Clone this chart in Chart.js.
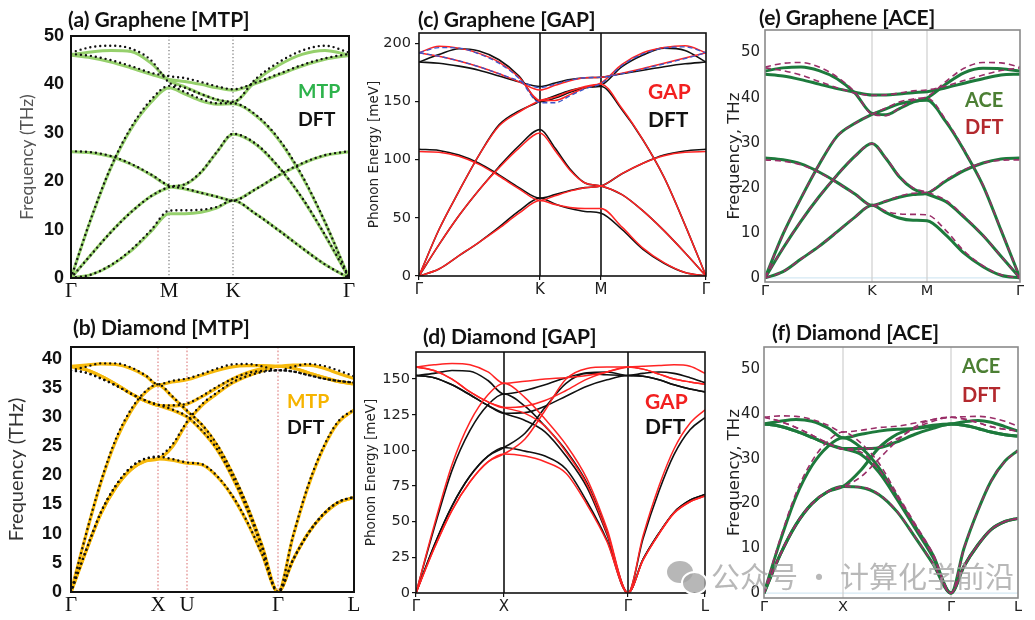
<!DOCTYPE html>
<html>
<head>
<meta charset="utf-8">
<script src="https://cdn.jsdelivr.net/npm/chart.js@4.4.1/dist/chart.umd.min.js"></script>
<style>
html,body{margin:0;padding:0;background:#fff}
body{position:relative;width:1035px;height:620px;overflow:hidden}
.box{position:absolute}
.lbl{position:absolute;font-family:Lato,"Liberation Sans",sans-serif;font-weight:bold;line-height:1;white-space:nowrap}
.wm{position:absolute;left:711px;top:554px;font-family:"Noto Sans CJK SC",sans-serif;font-size:29px;color:rgba(160,160,160,.75);white-space:nowrap;z-index:5}
.bub{position:absolute;border-radius:50%;background:rgba(165,165,165,.8);z-index:5}
</style>
</head>
<body>
<script>
/* ════════════════════════════════════
   DATA  (band values)
════════════════════════════════════ */

/* (a) graphene, MTP vs DFT, THz, path Γ-M-K-Γ */
const aX=[0,20,40,60,80,98,114,130,146,162,185,208,231,254,278];
const aTicks=[0,98,162,278];
const aNames=['Γ','M','K','Γ'];
const aY=[0,10,20,30,40,50];
const aMtp=[
  [0,0.7,2.6,5.6,9.6,13.3,13.3,13.6,14.5,16.0,13.2,9.8,6.2,2.8,0],
  [26.1,25.9,25.1,23.5,21.3,19.0,18.4,17.6,16.8,16.0,18.4,21.2,23.6,25.3,26.1],
  [0,4.8,9.5,13.6,16.9,18.7,19.3,21.8,26.0,29.7,27.6,22.8,16.5,8.8,0],
  [0,12.2,22.8,30.8,36.3,39.3,38.0,36.6,35.9,36.0,33.5,28.5,21.0,11.5,0],
  [46.1,46.7,47.0,46.8,44.4,40.8,39.5,38.0,36.8,36.3,40.8,44.0,46.2,47.0,46.1],
  [46.0,45.5,44.6,43.4,42.1,41.0,40.6,40.0,39.3,38.8,40.2,42.0,43.8,45.2,46.0]
];
const aDft=[
  [0,0.7,2.7,5.8,9.9,13.9,14.0,14.1,14.7,16.0,13.2,9.8,6.2,2.8,0],
  [26.2,26.0,25.2,23.6,21.4,19.1,18.5,17.6,16.8,16.0,18.4,21.3,23.7,25.4,26.2],
  [0,4.8,9.5,13.6,16.9,18.8,19.4,21.9,26.1,29.8,27.7,22.9,16.6,8.9,0],
  [0,12.3,23.0,31.1,36.8,39.7,38.4,37.0,36.1,36.1,33.7,28.7,21.2,11.6,0],
  [46.6,47.7,48.0,47.4,45.0,40.4,39.3,38.0,36.9,36.4,41.2,44.6,47.0,48.0,46.6],
  [46.3,45.9,45.0,43.8,42.4,41.7,41.3,40.5,39.6,39.0,40.4,42.2,44.0,45.4,46.3]
];

/* (b) diamond, MTP vs DFT, THz, path Γ-X-U-Γ-L */
const bX=[0,15,30,45,60,75,87,101,116,131,146,161,176,191,207,222,237,252,267,283];
const bTicks=[0,87,116,207,283];
const bNames=['Γ','X','U','Γ','L'];
const bY=[0,5,10,15,20,25,30,35,40];
const bMtp=[
  [38.7,38.9,39.1,39.0,38.3,37.0,35.5,36.0,36.4,37.2,38.0,38.6,38.8,38.8,38.7,38.9,38.9,38.4,37.5,36.6],
  [38.7,38.1,37.0,35.6,34.0,32.7,32.0,31.9,32.2,33.5,35.0,36.5,37.6,38.3,38.7,38.4,37.6,36.8,36.1,35.7],
  [0,9.8,18.8,26.0,31.0,34.3,35.5,33.5,31.0,28.6,25.2,20.5,14.8,8.0,0,9.5,18.0,24.5,29.0,31.2],
  [0,7.0,13.5,18.0,21.0,22.5,22.8,24.8,29.0,32.0,34.0,35.8,37.0,37.9,38.7,38.4,37.6,36.8,36.1,35.7],
  [38.7,38.1,37.0,35.6,34.0,32.7,32.0,31.2,30.0,27.6,24.4,19.8,14.2,7.6,0,5.5,10.0,13.2,15.3,16.2],
  [0,7.0,13.5,18.0,21.0,22.5,22.8,22.6,22.1,21.8,19.8,16.5,12.0,6.5,0,5.5,10.0,13.2,15.3,16.2]
];
const bDft=[
  [38.0,38.6,39.2,39.2,38.5,37.1,35.6,36.2,36.6,37.4,38.3,39.0,39.1,38.7,38.0,38.6,39.1,38.8,38.0,37.0],
  [38.0,37.6,36.6,35.4,34.0,32.8,32.1,32.0,32.3,33.6,35.2,36.5,37.5,37.9,38.0,37.8,37.2,36.6,36.2,35.9],
  [0,9.9,19.0,26.3,31.3,34.5,35.6,33.6,31.1,28.7,25.3,20.6,14.9,8.0,0,9.6,18.2,24.7,29.2,31.3],
  [0,7.1,13.7,18.3,21.4,22.9,23.2,25.2,29.2,32.2,34.2,35.9,37.0,37.7,38.0,37.8,37.2,36.6,36.2,35.9],
  [38.0,37.6,36.6,35.4,34.0,32.8,32.1,31.3,30.1,27.7,24.5,19.9,14.3,7.6,0,5.5,10.0,13.3,15.4,16.3],
  [0,7.1,13.7,18.3,21.4,22.9,23.2,22.8,22.2,21.9,19.9,16.6,12.1,6.5,0,5.5,10.0,13.3,15.4,16.3]
];

/* (c) graphene, GAP vs DFT, meV, path Γ-K-M-Γ */
const cX=[0,20,40,60,80,100,121,136,151,166,182,203,224,245,266,287];
const cTicks=[0,121,182,287];
const cNames=['Γ','K','M','Γ'];
const cY=[0,50,100,150,200];
const cDft=[
  [0,6,17.5,29,42,56,67,62,58,55.5,54,40,23,11,3,0],
  [109,108,104,97,87,76,67,70,73.5,76,77.4,88,97,104,107.5,109],
  [0,27,52,74,94,112,126,110,92,80,77.4,70,56,39,20,0],
  [0,40,73,104,130,142,150,155,159.5,162,163,143,117,85,44,0],
  [184,190.5,195.5,193.5,186,172,150,153,158,162,164,180,190,196,194,184],
  [184,183,180.5,177,172,167,163,166,169,170.5,171,174,177,180,182.5,184]
];
const cGap=[
  [0,6,17.5,29,41,54,65,61.5,59,58,58,42,24,11.5,3,0],
  [107,106.5,103,96,86,75,65,69,73,76,77.4,88,97,103.5,106.5,107],
  [0,27,52,74,93,110,123,108,91,80,77.4,70,56,39,20,0],
  [0,40,73,104,129,141,151,154,159,163,165,144,117,85,44,0],
  [192,197.5,196,191.5,184,171,151,151,156,162,166,182,192,196.5,198,192],
  [192,189,185,180,174,167,160,164,168,170.5,171,174.5,178.5,183,187.5,192]
];
const cAlt=[
  [192,196.5,196,191,183,170,149,149,155,161,165.5,181,191,196,197,192],
  [192,189,185,180,174,168,162,165,168.5,170.5,171,174,178,182.5,187,192]
];

/* (d) diamond, GAP vs DFT, meV, path Γ-X-Γ-L */
const dX=[0,18,36,54,72,88,109,129,150,171,191,212,227,243,258,274,289];
const dTicks=[0,88,212,289];
const dNames=['Γ','X','Γ','L'];
const dY=[0,25,50,75,100,125,150];
const dDft=[
  [152.5,154,156,155.5,149,139.5,142,146,151,154.5,155,152.5,154,155,154,151,147.5],
  [152.5,151,146,139,131.5,126,126.5,131,138,145,149.5,152.5,152,149.5,146,143,141],
  [0,33,61,82,96,102,112,130,147,154,153,152.5,152,149.5,146,143,141],
  [0,45,86,114,132,139.5,131,117,100,77,43,0,38,71.5,97,114.5,123],
  [152.5,151,146,139,131.5,126,121,113,96,74,41,0,23.5,42,56.5,65,69],
  [0,33,61,82,96,102,99.5,96,87,64,37,0,23.5,42,56.5,65,69]
];
const dGap=[
  [158.5,160,161,160,155,147,148.5,150,151,152.5,155,158.5,159,159.5,160,159,154],
  [158.5,156,150,141,134,130,131,135,142,150,155,158.5,157,153.5,150,148,146.5],
  [0,31,58,78,92,97.5,108,128,150,157.5,158.5,158.5,157,153.5,150,148,146.5],
  [0,47,90,120,139,147,137,122,104,80,45,0,40,75,101,119,128.5],
  [158.5,156,150,141,134,130,126,117,99,76,42,0,23,41.5,56,64,68],
  [0,31,58,78,92,97.5,96,92,84,62,36,0,23,41.5,56,64,68]
];

/* (e) graphene, ACE vs DFT, THz, path Γ-K-M-Γ */
const eX=[0,18,36,54,72,90,107,121,134,148,162,181,199,218,236,255];
const eTicks=[0,107,162,255];
const eNames=['Γ','K','M','Γ'];
const eY=[0,10,20,30,40,50];
const eAce=[
  [0,1.4,4.2,7.0,10.2,13.5,16.1,14.5,13.3,12.8,12.7,9.5,5.5,2.5,0.6,0],
  [26.6,26.2,25.3,23.5,21.2,18.6,16.1,17.0,17.9,18.5,18.8,21.5,23.8,25.5,26.4,26.6],
  [0,6.6,12.6,18.0,22.8,27.0,29.8,26.5,22.5,19.8,18.6,16.9,13.5,9.4,4.8,0],
  [0,9.7,17.7,25.1,31.4,34.3,36.3,37.5,38.6,39.2,39.4,34.6,28.3,20.5,10.6,0],
  [45.9,46.6,46.8,46.0,44.2,41.0,36.5,36.2,37.5,39.0,39.9,43.0,45.5,46.5,46.4,45.9],
  [45.2,44.8,44.0,43.0,42.0,41.2,40.6,40.6,40.8,41.1,41.3,42.2,43.2,44.2,45.0,45.2]
];
const eDft=[
  [0,1.4,4.2,7.0,10.2,13.5,16.1,14.8,14.2,14.1,14.0,10.5,6.0,2.7,0.7,0],
  [26.2,25.9,25.1,23.4,21.1,18.6,16.1,17.1,18.1,18.8,19.0,21.8,24.0,25.5,26.1,26.2],
  [0,6.6,12.6,18.0,22.8,27.0,29.8,26.6,22.7,20.0,19.0,17.2,13.7,9.5,4.8,0],
  [0,9.7,17.7,25.1,31.4,34.3,36.3,37.7,39.0,39.7,39.9,35.0,28.5,20.6,10.7,0],
  [46.8,47.6,47.8,46.8,44.6,41.2,36.3,36.0,37.6,39.4,40.2,43.6,46.5,47.8,47.7,46.8],
  [46.6,46.0,45.0,43.6,42.2,41.0,40.5,40.6,41.0,41.5,41.7,42.6,43.8,45.0,46.0,46.6]
];

/* (f) diamond, ACE vs DFT, THz, path Γ-X-Γ-L */
const fX=[0,16,32,48,64,79,97,115,133,151,169,187,200,214,227,241,254];
const fTicks=[0,79,187,254];
const fNames=['Γ','X','Γ','L'];
const fY=[0,10,20,30,40,50];
const fAce=[
  [37.8,38.4,38.8,38.4,36.9,34.7,35.5,36.2,36.6,36.8,37.3,37.8,38.3,38.6,38.2,37.2,36.2],
  [37.8,37.3,36.2,34.8,33.3,32.3,32.3,32.5,33.8,35.5,36.8,37.8,37.5,36.8,36.0,35.4,35.1],
  [0,8.5,15.3,20.0,22.7,23.8,27.5,32.5,35.5,36.8,37.5,37.8,37.5,36.8,36.0,35.4,35.1],
  [0,11.5,21.5,28.5,32.8,34.7,32.5,28.0,21.5,15.0,8.5,0,10.0,18.5,25.0,29.5,31.9],
  [37.8,37.3,36.2,34.8,33.3,32.3,31.0,27.0,21.0,14.5,8.0,0,6.0,10.8,14.2,16.0,16.7],
  [0,8.5,15.3,20.0,22.7,23.8,23.6,22.0,18.2,12.5,6.5,0,6.0,10.8,14.2,16.0,16.7]
];
const fDft=[
  [39.3,39.6,39.5,38.8,37.5,36.0,36.4,37.0,37.3,38.0,38.8,39.3,39.4,39.5,39.2,38.4,37.3],
  [39.3,38.4,37.0,35.3,33.5,32.2,32.3,32.6,34.5,36.8,38.4,39.3,38.9,38.1,37.2,36.6,36.2],
  [0,8.5,15.3,20.0,22.7,23.8,26.0,30.0,34.0,37.2,38.8,39.3,38.9,38.1,37.2,36.6,36.2],
  [0,12.0,22.3,29.5,34.0,36.0,33.5,29.0,22.2,15.5,8.8,0,10.0,18.5,25.0,29.4,31.8],
  [39.3,38.4,37.0,35.3,33.5,32.2,31.5,27.5,21.5,15.0,8.3,0,6.0,10.8,14.2,16.0,16.7],
  [0,8.5,15.3,20.0,22.7,23.8,23.7,22.1,18.3,12.6,6.6,0,6.0,10.8,14.2,16.0,16.7]
];

/* ════════════════════════════════════
   DRAWING
════════════════════════════════════ */
const SANS='"DejaVu Sans", sans-serif';
const PT=12,PR=12,XH=30;

/* dividers, zero line and frame */
const deco={
  id:'deco',
  beforeDatasetsDraw(c,_,o){
    const {ctx,chartArea:a,scales:{x,y}}=c;
    ctx.save();
    if(o.zero){
      const py=y.getPixelForValue(0);
      ctx.strokeStyle=o.zero;ctx.lineWidth=1.3;
      ctx.beginPath();ctx.moveTo(a.left,py);ctx.lineTo(a.right,py);ctx.stroke();
    }
    ctx.strokeStyle=o.vColor;ctx.lineWidth=o.vWidth;ctx.setLineDash(o.vDash||[]);
    o.vAt.forEach(v=>{
      const px=x.getPixelForValue(v);
      ctx.beginPath();ctx.moveTo(px,a.top);ctx.lineTo(px,a.bottom);ctx.stroke();
    });
    ctx.restore();
  },
  afterDatasetsDraw(c,_,o){
    const {ctx,chartArea:a}=c;
    ctx.save();ctx.strokeStyle=o.frame;ctx.lineWidth=o.frameW;
    ctx.strokeRect(a.left,a.top,a.right-a.left,a.bottom-a.top);ctx.restore();
  }
};

function build(p){
  const [l,t,r,b]=p.rect;
  const w=r-l+p.yw+PR,h=b-t+PT+XH;
  const box=document.createElement('div');box.className='box';
  box.style.left=(l-p.yw)+'px';box.style.top=(t-PT)+'px';
  const cv=document.createElement('canvas');
  cv.width=w;cv.height=h;cv.style.width=w+'px';cv.style.height=h+'px';
  box.appendChild(cv);document.body.appendChild(box);
  const ds=[];
  p.series.forEach(s=>s.bands.forEach(band=>ds.push({
    data:p.xs.map((x,i)=>({x,y:band[i]})),
    borderColor:s.color,borderWidth:s.width,borderDash:s.dash||[],
    borderCapStyle:s.cap||'butt',pointRadius:0,fill:false,
    cubicInterpolationMode:'monotone'
  })));
  ds.reverse(); // first series ends up at the bottom
  const marks=!!p.marks;
  new Chart(cv,{
    type:'line',
    data:{datasets:ds},
    plugins:[deco],
    options:{
      responsive:false,animation:false,events:[],
      layout:{padding:{left:0,top:PT,right:PR,bottom:0}},
      plugins:{legend:{display:false},tooltip:{enabled:false},
        deco:{vAt:p.xTicks.slice(1,-1),vColor:p.vColor,vWidth:p.vWidth,vDash:p.vDash,
          frame:p.frame,frameW:p.frameW,zero:p.zero||null}},
      scales:{
        x:{type:'linear',min:p.xs[0],max:p.xs[p.xs.length-1],
          afterBuildTicks:s=>{s.ticks=p.xTicks.map(v=>({value:v}))},
          afterFit:s=>{s.height=XH;s.paddingLeft=0;s.paddingRight=0},
          grid:{display:marks,drawOnChartArea:false,drawTicks:marks,tickLength:4,color:'#111',lineWidth:1.2},
          border:{display:false},
          ticks:{autoSkip:false,maxRotation:0,padding:p.xPad,font:p.xFont,color:p.tickColor,
            callback:(v,i)=>p.xNames[i]}},
        y:{type:'linear',min:p.yMin,max:p.yMax,
          afterBuildTicks:s=>{s.ticks=p.yTicks.map(v=>({value:v}))},
          afterFit:s=>{s.width=p.yw;s.paddingTop=0;s.paddingBottom=0},
          grid:{display:marks,drawOnChartArea:false,drawTicks:marks,tickLength:4,color:'#111',lineWidth:1.2},
          border:{display:false},
          ticks:{padding:p.yPad,font:p.tickFont,color:p.tickColor},
          title:{display:true,text:p.yTitle,font:p.titleFont,color:p.titleColor,padding:{top:4,bottom:0}}}
      }
    }
  });
}

const dots={color:'#111',width:2.4,dash:[0,5],cap:'round'};
const boldTicks={family:'"Liberation Sans"',size:18,weight:'bold'};
const serifX={family:'"Liberation Serif"',size:21};

build({rect:[71,36,349,278],yw:58,yMin:0,yMax:50,yTicks:aY,xs:aX,xTicks:aTicks,xNames:aNames,
  series:[{bands:aMtp,color:'#96d06c',width:3},{bands:aDft,...dots}],
  tickFont:boldTicks,tickColor:'#111',yPad:7,xFont:serifX,xPad:1,
  yTitle:'Frequency (THz)',titleFont:{family:'Lato',size:17.5},titleColor:'#555',
  vColor:'#777',vWidth:1.2,vDash:[1.2,2.3],frame:'#111',frameW:2});

build({rect:[71,347,354,592],yw:70,yMin:0,yMax:42,yTicks:bY,xs:bX,xTicks:bTicks,xNames:bNames,
  series:[{bands:bMtp,color:'#f6b90c',width:3.2},{bands:bDft,...dots}],
  tickFont:boldTicks,tickColor:'#111',yPad:9,xFont:serifX,xPad:1,
  yTitle:'Frequency (THz)',titleFont:{family:'Lato',size:20},titleColor:'#333',
  vColor:'#e08585',vWidth:1.2,vDash:[1.6,2],frame:'#111',frameW:2});

build({rect:[419,33,706,276],yw:57,yMin:0,yMax:209,yTicks:cY,xs:cX,xTicks:cTicks,xNames:cNames,
  series:[{bands:cDft,color:'#111',width:1.6},{bands:cGap,color:'#ff2424',width:1.5},
    {bands:cAlt,color:'#3d55c8',width:1.3,dash:[5,3]}],
  tickFont:{family:SANS,size:14.5},tickColor:'#222',yPad:4,xFont:{family:SANS,size:15},xPad:1,marks:true,
  yTitle:'Phonon Energy [meV]',titleFont:{family:SANS,size:13.5},titleColor:'#222',
  vColor:'#111',vWidth:1.6,frame:'#111',frameW:1.6});

build({rect:[416,352,705,593],yw:57,yMin:0,yMax:169,yTicks:dY,xs:dX,xTicks:dTicks,xNames:dNames,
  series:[{bands:dDft,color:'#111',width:1.6},{bands:dGap,color:'#ff2424',width:1.5}],
  tickFont:{family:SANS,size:14.5},tickColor:'#222',yPad:2,xFont:{family:SANS,size:15},xPad:1,marks:true,
  yTitle:'Phonon Energy [meV]',titleFont:{family:SANS,size:13.5},titleColor:'#222',
  vColor:'#111',vWidth:1.6,frame:'#111',frameW:1.6});

build({rect:[765,30,1020,282],yw:44,yMin:-0.9,yMax:55,yTicks:eY,xs:eX,xTicks:eTicks,xNames:eNames,
  series:[{bands:eAce,color:'#1d7a3c',width:3},{bands:eDft,color:'#9a2e68',width:1.6,dash:[6,4]}],
  tickFont:{family:SANS,size:15},tickColor:'#222',yPad:5,xFont:{family:SANS,size:14.5},xPad:1,
  yTitle:'Frequency, THz',titleFont:{family:SANS,size:16.5},titleColor:'#222',
  vColor:'#cfcfcf',vWidth:1.2,frame:'#8a8a8a',frameW:1.6,zero:'#d4e8f3'});

build({rect:[764,347,1018,598],yw:43,yMin:-1.1,yMax:55,yTicks:fY,xs:fX,xTicks:fTicks,xNames:fNames,
  series:[{bands:fAce,color:'#1d7a3c',width:3},{bands:fDft,color:'#9a2e68',width:1.6,dash:[6,4]}],
  tickFont:{family:SANS,size:15},tickColor:'#222',yPad:4,xFont:{family:SANS,size:14.5},xPad:1,
  yTitle:'Frequency, THz',titleFont:{family:SANS,size:16.5},titleColor:'#222',
  vColor:'#cfcfcf',vWidth:1.2,frame:'#8a8a8a',frameW:1.6,zero:'#d4e8f3'});

/* panel titles and in-plot legends: [text, left, cap top, size, colour] */
const LABELS=[
  ['(a) Graphene [MTP]',68,12,21,'#111'],
  ['(b) Diamond [MTP]',73,320,21,'#111'],
  ['(c) Graphene [GAP]',418,12,21,'#111'],
  ['(d) Diamond [GAP]',423,329,21,'#111'],
  ['(e) Graphene [ACE]',759,10,21,'#111'],
  ['(f) Diamond [ACE]',772,325,21,'#111'],
  ['MTP',298,84,19.5,'#2eb34c'],['DFT',298,112,19.5,'#111'],
  ['MTP',287,394,19.5,'#f6b400'],['DFT',287,420,19.5,'#111'],
  ['GAP',648,84,21,'#f22020'],['DFT',648,112,21,'#111'],
  ['GAP',645,394,21,'#f22020'],['DFT',645,419,21,'#111'],
  ['ACE',965,92,20,'#4c7f34'],['DFT',965,119,20,'#b3292e'],
  ['ACE',962,358,20,'#4c7f34'],['DFT',962,387,20,'#b3292e']
];
LABELS.forEach(([txt,x,cap,size,col])=>{
  const d=document.createElement('div');d.className='lbl';d.textContent=txt;
  d.style.left=x+'px';d.style.top=(cap-0.17*size)+'px';d.style.fontSize=size+'px';d.style.color=col;
  document.body.appendChild(d);
});

/* watermark */
const wm=document.createElement('div');wm.className='wm';wm.textContent='公众号 · 计算化学前沿';
document.body.appendChild(wm);
[[667,561,26,22],[681,571,23,20]].forEach(([x,y,w,h],i)=>{
  const e=document.createElement('div');e.className='bub';
  e.style.cssText+=`left:${x}px;top:${y}px;width:${w}px;height:${h}px;`+(i?'border:2px solid #fff;':'');
  document.body.appendChild(e);
});
</script>
</body>
</html>
